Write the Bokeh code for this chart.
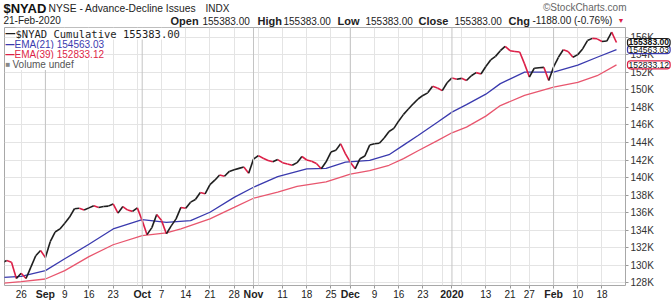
import pandas as pd
from bokeh.plotting import figure
from bokeh.models import Label, Span, FixedTicker, ColumnDataSource, Range1d
from bokeh.embed import file_html
from bokeh.resources import INLINE

# ---------------- data ----------------
holidays = ["2019-09-02", "2019-11-28", "2019-12-25", "2020-01-01", "2020-01-20", "2020-02-17"]
dates = pd.bdate_range("2019-08-20", "2020-02-21", freq="C", holidays=holidays)

close = [
    130300, 130550, 130350, 128500, 129100, 128500, 129800, 131100, 131700, 130900,
    132700, 133800, 134150, 134800, 135500, 136450, 136500, 136300, 136550, 136800,
    136600, 136700, 136750, 137000, 135950, 136700, 136300, 136150, 136550, 135100,
    133500, 134300, 135800, 135100, 133600, 134500, 135300, 136600, 136500, 137200,
    137500, 138300, 138150, 139200, 139700, 140300, 140150, 140700, 140900, 141050,
    141200, 140500, 142100, 142500, 142200, 141950, 141800, 142050, 141700, 141550,
    141400, 141700, 142400, 142000, 141850, 141600, 141000, 141800, 142900, 143100,
    143850, 142700, 141750, 141000, 142150, 142450, 143700, 143850, 143900, 144500,
    145250, 145600, 146450, 147200, 147800, 148400, 148950, 149350, 149650, 150400,
    150200, 149900, 150800, 151350, 151200, 151300, 151050, 151600, 151950, 151800,
    152650, 153400, 153800, 154450, 154950, 154450, 154350, 154300, 152950, 151450,
    152450, 152500, 152550, 151050, 152600, 153700, 154550, 154350, 153700, 154000,
    154650, 155600, 155850, 155800, 155500, 155550, 156571, 155383,
]

ema21_dates = ["2019-08-20", "2019-08-26", "2019-09-03", "2019-09-09", "2019-09-16", "2019-09-23",
               "2019-10-01", "2019-10-08", "2019-10-15", "2019-10-21", "2019-10-28", "2019-11-01",
               "2019-11-08", "2019-11-18", "2019-11-22", "2019-11-29", "2019-12-06", "2019-12-12",
               "2019-12-17", "2019-12-20", "2019-12-27", "2020-01-02", "2020-01-07", "2020-01-13",
               "2020-01-16", "2020-01-24", "2020-02-03", "2020-02-10", "2020-02-14", "2020-02-21"]
ema21 = [128620, 128750, 129400, 130750, 132400, 134150,
         135200, 134900, 135100, 136050, 137750, 138900,
         140100, 141000, 141050, 141750, 141950, 142600,
         143700, 144800, 146300, 147450, 148300, 149500,
         150700, 152000, 152000, 152800, 153700, 154563]

ema39_dates = ["2019-08-20", "2019-08-26", "2019-09-03", "2019-09-09", "2019-09-16", "2019-09-23",
               "2019-10-01", "2019-10-08", "2019-10-11", "2019-10-21", "2019-10-28", "2019-11-01",
               "2019-11-08", "2019-11-14", "2019-11-22", "2019-12-02", "2019-12-06", "2019-12-12",
               "2019-12-17", "2019-12-20", "2019-12-27", "2020-01-02", "2020-01-07", "2020-01-13",
               "2020-01-16", "2020-01-24", "2020-02-03", "2020-02-10", "2020-02-14", "2020-02-21"]
ema39 = [127950, 128150, 128450, 129400, 131000, 132350,
         133400, 133700, 134150, 135300, 136600, 137650,
         138350, 139000, 139500, 140400, 140800, 141400,
         142150, 143050, 144200, 145100, 145750, 147000,
         148200, 149350, 150300, 150850, 151600, 152833]

grid_dates = ["2019-08-26", "2019-09-03", "2019-09-09", "2019-09-16", "2019-09-23", "2019-09-30",
              "2019-10-07", "2019-10-14", "2019-10-21", "2019-10-28", "2019-11-04", "2019-11-11",
              "2019-11-18", "2019-11-25", "2019-12-02", "2019-12-09", "2019-12-16", "2019-12-23",
              "2019-12-30", "2020-01-06", "2020-01-13", "2020-01-21", "2020-01-27", "2020-02-03",
              "2020-02-10", "2020-02-18"]
month_dates = ["2019-09-03", "2019-10-01", "2019-11-01", "2019-12-02", "2020-01-02", "2020-02-03"]

tick_dates = ["2019-08-26", "2019-09-03", "2019-09-09", "2019-09-16", "2019-09-23", "2019-10-01",
              "2019-10-07", "2019-10-14", "2019-10-21", "2019-10-28", "2019-11-01", "2019-11-11",
              "2019-11-18", "2019-11-25", "2019-12-02", "2019-12-09", "2019-12-16", "2019-12-23",
              "2020-01-02", "2020-01-13", "2020-01-21", "2020-01-27", "2020-02-03", "2020-02-10",
              "2020-02-18"]
tick_labels = ["26", "Sep", "9", "16", "23", "Oct", "7", "14", "21", "28", "Nov", "11", "18", "25",
               "Dec", "9", "16", "23", "2020", "13", "21", "27", "Feb", "10", "18"]
bold_labels = ["Sep", "Oct", "Nov", "Dec", "2020", "Feb"]

y_ticks = [128000, 130000, 132000, 134000, 136000, 138000, 140000, 142000,
           144000, 146000, 148000, 150000, 152000, 154000, 156000]
y_tick_labels = ["128K", "130K", "132K", "134K", "136K", "138K", "140K", "142K",
                 "144K", "146K", "148K", "150K", "152K", "154K", "156K"]

# ---------------- layout constants ----------------
W, H = 671, 300
BL, BR, BT, BB = 4, 46, 27, 15          # borders around the plotting frame
X0, X1 = 0.55, 128.86                    # visible day-index range
Y0, Y1 = 127710, 157090                  # visible value range

pos = {d.strftime("%Y-%m-%d"): i for i, d in enumerate(dates)}
xs = list(range(len(dates)))

BLACK = "#1e1e1e"
RED = "#dc1f47"
BLUE = "#3a3aae"
PINK = "#e8566e"
FONT = "Liberation Sans"

p = figure(width=W, height=H, output_backend="svg", toolbar_location=None,
           x_range=Range1d(X0, X1), y_range=Range1d(Y0, Y1),
           y_axis_location="right", min_border_left=BL, min_border_right=BR,
           min_border_top=BT, min_border_bottom=BB)
p.outline_line_color = "#a8a8a8"
p.background_fill_color = "white"
p.border_fill_color = "white"

# grids
p.xgrid.ticker = FixedTicker(ticks=[pos[d] for d in grid_dates])
p.xgrid.grid_line_color = "#e4e4e4"
p.ygrid.grid_line_color = "#e4e4e4"
for d in month_dates:
    p.add_layout(Span(location=pos[d], dimension="height", line_color="#c4c4c4", line_width=1))

# axes
p.yaxis.ticker = FixedTicker(ticks=y_ticks)
p.yaxis.major_label_overrides = {t: l for t, l in zip(y_ticks, y_tick_labels)}
p.yaxis.axis_line_color = None
p.yaxis.major_tick_out = 3
p.yaxis.major_tick_in = 0
p.yaxis.minor_tick_line_color = None
p.yaxis.major_tick_line_color = "#999999"
p.yaxis.major_label_text_font = FONT
p.yaxis.major_label_text_font_size = "10px"
p.yaxis.major_label_text_color = "#333333"
p.yaxis.major_label_standoff = 2

tick_pos = [pos[d] for d in tick_dates]
p.xaxis.ticker = FixedTicker(ticks=tick_pos)
p.xaxis.major_label_overrides = {t: ("" if l in bold_labels else l) for t, l in zip(tick_pos, tick_labels)}
p.xaxis.axis_line_color = None
p.xaxis.major_tick_out = 3
p.xaxis.major_tick_in = 0
p.xaxis.minor_tick_line_color = None
p.xaxis.major_tick_line_color = "#999999"
p.xaxis.major_label_text_font = FONT
p.xaxis.major_label_text_font_size = "10px"
p.xaxis.major_label_text_color = "#222222"
p.xaxis.major_label_standoff = 1

# EMA lines
p.line([pos[d] for d in ema39_dates], ema39, line_color=PINK, line_width=1.3)
p.line([pos[d] for d in ema21_dates], ema21, line_color=BLUE, line_width=1.3)

# price line with up/down colouring
seg = dict(x0=xs[:-1], x1=xs[1:], y0=close[:-1], y1=close[1:],
           c=[BLACK if close[i + 1] >= close[i] else RED for i in range(len(close) - 1)])
p.segment(x0="x0", y0="y0", x1="x1", y1="y1", color="c", line_width=1.6,
          source=ColumnDataSource(seg))


def lab(fig, x, y, text, size="10px", style="normal", color="#222222", align="left",
        font=FONT, bg=None, left=0, bottom=0):
    # x, y given as canvas pixels (top-left origin); converted to frame-relative screen units
    kw = dict(x=x - left, y=(H - bottom) - y, x_units="screen", y_units="screen", text=text,
              text_font=font, text_font_size=size, text_font_style=style, text_color=color,
              text_align=align, text_baseline="middle")
    if bg:
        kw["background_fill_color"] = bg
    fig.add_layout(Label(**kw))


# legend inside the frame
def plab(x, y, text, **kw):
    lab(p, x, y, text, left=BL, bottom=BB, **kw)

plab(5, 33, "\u2014", size="10px", style="bold", color=BLACK)
plab(15, 33, "$NYAD Cumulative 155383.00", size="10.5px", color=BLACK, font="DejaVu Sans Mono", bg="white")
plab(5, 44, "\u2014", size="10px", style="bold", color=BLUE)
plab(14, 44, "EMA(21) 154563.03", size="10px", color=BLUE, bg="white")
plab(5, 54, "\u2014", size="10px", style="bold", color=RED)
plab(14, 54, "EMA(39) 152833.12", size="10px", color=RED, bg="white")
plab(5, 64, "\u25a0", size="8px", color="#888888")
plab(12, 64, "Volume undef", size="10px", color="#555555", bg="white")

# ---------------- transparent overlay over the whole canvas (header, bold months, callouts) ----------------
xpp = (X1 - X0) / (W - BL - BR)
ypp = (Y1 - Y0) / (H - BT - BB)
ov = figure(width=W, height=H, output_backend="svg", toolbar_location=None,
            x_range=Range1d(X0 - BL * xpp, X1 + BR * xpp),
            y_range=Range1d(Y0 - BB * ypp, Y1 + BT * ypp),
            min_border=0, min_border_left=0, min_border_right=0, min_border_top=0, min_border_bottom=0,
            styles={"position": "absolute", "top": "0px", "left": "0px", "z-index": "10",
                    "pointer-events": "none"})
ov.xaxis.visible = False
ov.yaxis.visible = False
ov.grid.visible = False
ov.outline_line_color = None
ov.background_fill_color = None
ov.border_fill_color = None


def olab(x, y, text, **kw):
    lab(ov, x, y, text, **kw)

olab(3, 8, "$NYAD", size="13px", style="bold", color="#111111")
olab(48, 8, "NYSE - Advance-Decline Issues", size="10.3px")
olab(205, 8, "INDX", size="10px")
olab(626, 7, "\u00a9StockCharts.com", size="10px", color="#666666", align="right")

olab(3, 20, "21-Feb-2020", size="10px")
olab(170, 20, "Open", size="11px", style="bold")
olab(202, 20, "155383.00", size="10px")
olab(257, 20, "High", size="11px", style="bold")
olab(283, 20, "155383.00", size="10px")
olab(337, 20, "Low", size="11px", style="bold")
olab(365, 20, "155383.00", size="10px")
olab(418, 20, "Close", size="11px", style="bold")
olab(454, 20, "155383.00", size="10px")
olab(508, 20, "Chg", size="11px", style="bold")
olab(532, 20, "-1188.00 (-0.76%)", size="10px")
olab(617, 20, "\u25bc", size="7px", color=RED)

# bold month labels on the date axis
for t, l in zip(tick_pos, tick_labels):
    if l in bold_labels:
        ov.add_layout(Label(x=t, y=H - 293, x_units="data", y_units="screen", text=l,
                            text_font=FONT, text_font_size="10.5px", text_font_style="bold",
                            text_align="center", text_baseline="middle", text_color="#222222"))

# right-hand value callouts (sized to fit inside the canvas)
for val, txt, col, sty in [(ema39[-1], "152833.12", RED, "normal"),
                           (ema21[-1], "154563.03", BLUE, "normal"),
                           (close[-1], "155383.00", BLACK, "bold")]:
    lb = Label(x=W - BR + 2, y=val, x_units="screen", y_units="data", text=txt,
               text_font=FONT, text_font_size="8.6px", text_font_style=sty,
               text_color="#111111", text_baseline="middle", text_align="left",
               background_fill_color="white", border_line_color=col, border_line_width=1.2)
    for attr, v in (("padding", 1), ("border_radius", 3)):
        try:
            setattr(lb, attr, v)
        except Exception:
            pass
    ov.add_layout(lb)

open("out.html", "w").write(file_html([p, ov], INLINE))
